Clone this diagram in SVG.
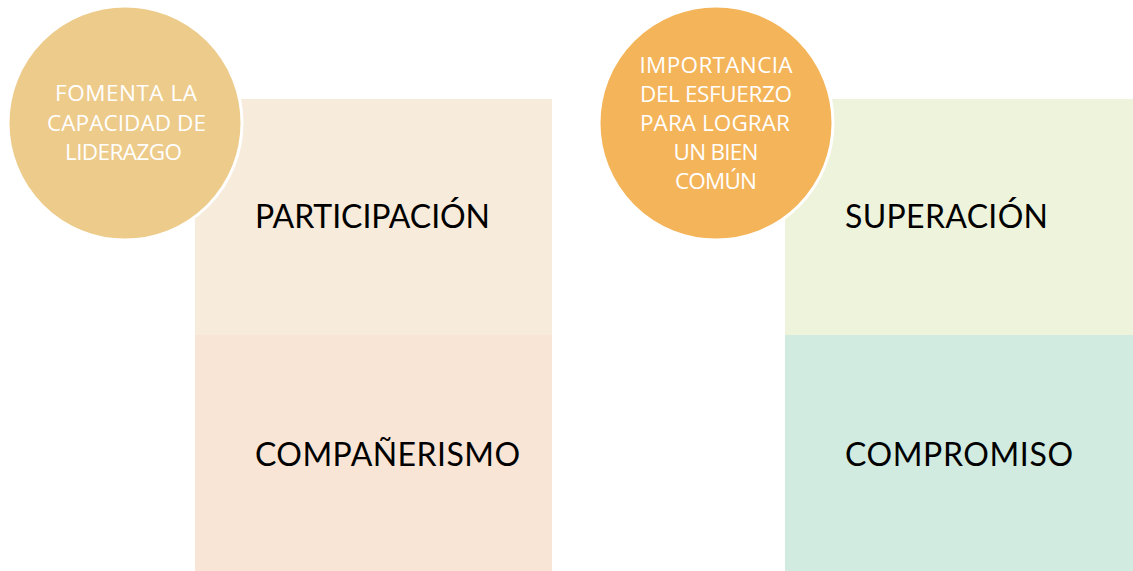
<svg xmlns="http://www.w3.org/2000/svg" width="1133" height="571" viewBox="0 0 1133 571">
<style>
.big{font-family:Lato,"Open Sans","Liberation Sans",sans-serif;font-size:32px;fill:#000}
.small{font-family:"Open Sans",Lato,"Liberation Sans",sans-serif;font-size:22.5px;fill:#fff;text-anchor:middle}
.circ{stroke:#fff;stroke-width:3}
</style>
<rect width="1133" height="571" fill="#fff"/>
<g id="participacion">
<rect x="195" y="99" width="357" height="236" fill="#F7EBDB"/>
<text class="big" x="255" y="228" textLength="235">PARTICIPACIÓN</text>
</g>
<g id="companerismo">
<rect x="195" y="335" width="357" height="236" fill="#F9E5D5"/>
<text class="big" x="255" y="466" textLength="265">COMPAÑERISMO</text>
</g>
<g id="superacion">
<rect x="785" y="99" width="348" height="236" fill="#EEF3DC"/>
<text class="big" x="845" y="228" textLength="203">SUPERACIÓN</text>
</g>
<g id="compromiso">
<rect x="785" y="335" width="348" height="236" fill="#D2EBE0"/>
<text class="big" x="845" y="466" textLength="228">COMPROMISO</text>
</g>
<g id="fomenta">
<circle class="circ" cx="125" cy="123" r="117" fill="#EDCB8B"/>
<text class="small" x="126" y="101" textLength="142">FOMENTA LA</text>
<text class="small" x="126.5" y="131" textLength="159">CAPACIDAD DE</text>
<text class="small" x="123.5" y="160" textLength="117">LIDERAZGO</text>
</g>
<g id="importancia">
<circle class="circ" cx="716" cy="123" r="117" fill="#F4B459"/>
<text class="small" x="716" y="73" textLength="153">IMPORTANCIA</text>
<text class="small" x="716" y="102" textLength="152">DEL ESFUERZO</text>
<text class="small" x="715" y="131" textLength="150">PARA LOGRAR</text>
<text class="small" x="716" y="160" textLength="85">UN BIEN</text>
<text class="small" x="716" y="189" textLength="82">COMÚN</text>
</g>
<g id="connectors"></g>
</svg>
